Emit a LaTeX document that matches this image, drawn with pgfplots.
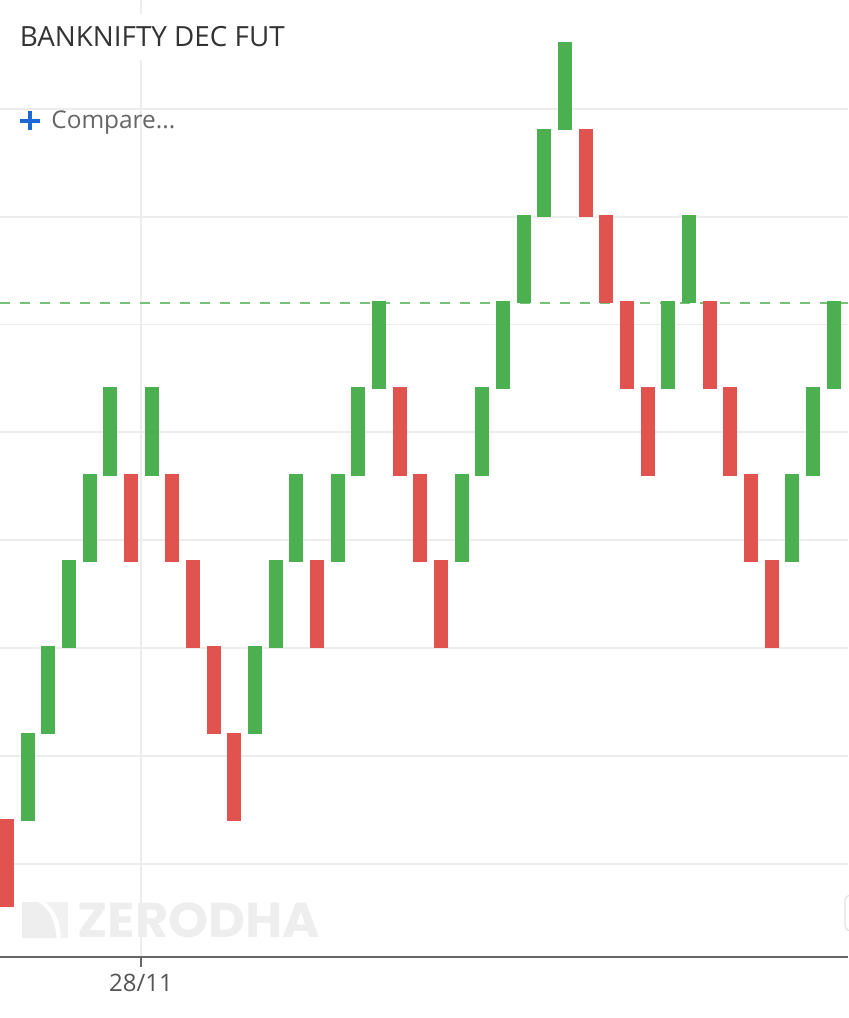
\documentclass[border=0pt]{standalone}
\usepackage{pgfplots}
\pgfplotsset{compat=1.18}
\usepackage{pgfplotstable}
\usepackage{fontspec}
\setmainfont{Open Sans}
\newfontfamily\wmfont{Poppins}
\definecolor{gcol}{HTML}{4CAF50}
\definecolor{rcol}{HTML}{E0534F}
\definecolor{dashcol}{HTML}{76C176}
\definecolor{gridcol}{HTML}{EDEDED}
\definecolor{axiscol}{HTML}{666666}
\definecolor{labelcol}{HTML}{555555}
\definecolor{titlecol}{HTML}{333333}
\definecolor{comparecol}{HTML}{666666}
\definecolor{pluscol}{HTML}{1B68D6}
\definecolor{wmcol}{HTML}{EEEEEE}
\definecolor{wmcolb}{HTML}{F1F1F1}
\definecolor{btncol}{HTML}{E2E2E2}

% renko bricks: index, lower edge (in brick units)
\pgfplotstableread{
i lo
1 1
2 2
3 3
4 4
5 5
7 5
12 2
13 3
14 4
16 4
17 5
18 6
22 4
23 5
24 6
25 7
26 8
27 9
32 6
33 7
38 4
39 5
40 6
}\greenbricks

\pgfplotstableread{
i lo
0 0
6 4
8 4
9 3
10 2
11 1
15 3
19 5
20 4
21 3
28 8
29 7
30 6
31 5
34 6
35 5
36 4
37 3
}\redbricks

\begin{document}
\begin{tikzpicture}
\useasboundingbox (0pt,-30.65pt) rectangle (424pt,478.35pt);
\begin{axis}[
  at={(0pt,0pt)}, anchor=south west,
  scale only axis, width=424pt, height=478.35pt,
  xmin=-0.3387, xmax=40.687, ymin=-0.5759, ymax=10.51,
  axis x line*=bottom, axis y line*=left,
  y axis line style={draw=none},
  x axis line style={draw=axiscol, line width=1pt, -},
  ytick={0.5,1.75,3,4.25,5.5,6.75,8,9.25}, yticklabels={},
  ytick style={draw=none},
  ymajorgrids, xmajorgrids,
  grid style={draw=gridcol, line width=0.9pt},
  xtick={6.483}, xticklabels={28/11},
  xtick align=outside, major tick length=5pt,
  xtick style={draw=axiscol, line width=1pt},
  xticklabel style={font=\fontsize{12}{14}\selectfont, text=labelcol},
]
\addplot[draw=dashcol, line width=1pt, dash pattern=on 5pt off 5pt, forget plot]
  coordinates {(-0.3387,7) (40.687,7)};
\addplot[draw=none, mark=none, forget plot,
  error bars/.cd, y dir=plus, y fixed=1.02, error mark=none,
  error bar style={draw=gcol, line width=7pt, solid}]
  table[x=i, y=lo] {\greenbricks};
\addplot[draw=none, mark=none, forget plot,
  error bars/.cd, y dir=plus, y fixed=1.02, error mark=none,
  error bar style={draw=rcol, line width=7pt, solid}]
  table[x=i, y=lo] {\redbricks};
\end{axis}
\begin{scope}[x=0.5pt, y=-0.5pt, shift={(0pt,478.35pt)}]
  % title with white background
  \fill[white] (8,14) rectangle (300,60);
  \node[anchor=base west, inner sep=0, text=titlecol, font=\fontsize{13.9}{16}\selectfont] at (19.5,46.7) {BANKNIFTY DEC FUT};
  % compare
  \draw[pluscol, line width=2pt] (20,121) -- (40,121) (30,111.5) -- (30,130.5);
  \node[anchor=base west, inner sep=0, text=comparecol, font=\fontsize{12.2}{14}\selectfont] at (51,129) {Compare...};
  % watermark
  \fill[wmcol] (22,902) -- (38,902) .. controls (50,908) and (56,924) .. (56.5,938) -- (22,938) -- cycle;
  \fill[wmcolb] (45,902) -- (68,902) -- (68,938) -- (61,938) .. controls (60.5,922) and (55,909) .. (45,902) -- cycle;
  \node[anchor=base west, inner sep=0, text=wmcol, xscale=1.04, font=\wmfont\bfseries\fontsize{24.5}{28}\selectfont] at (77,937.5) {ZERODHA};
  % partial button at right edge
  \draw[btncol, line width=0.6pt, rounded corners=3pt] (845,895) rectangle (890,931);
\end{scope}
\end{tikzpicture}
\end{document}
